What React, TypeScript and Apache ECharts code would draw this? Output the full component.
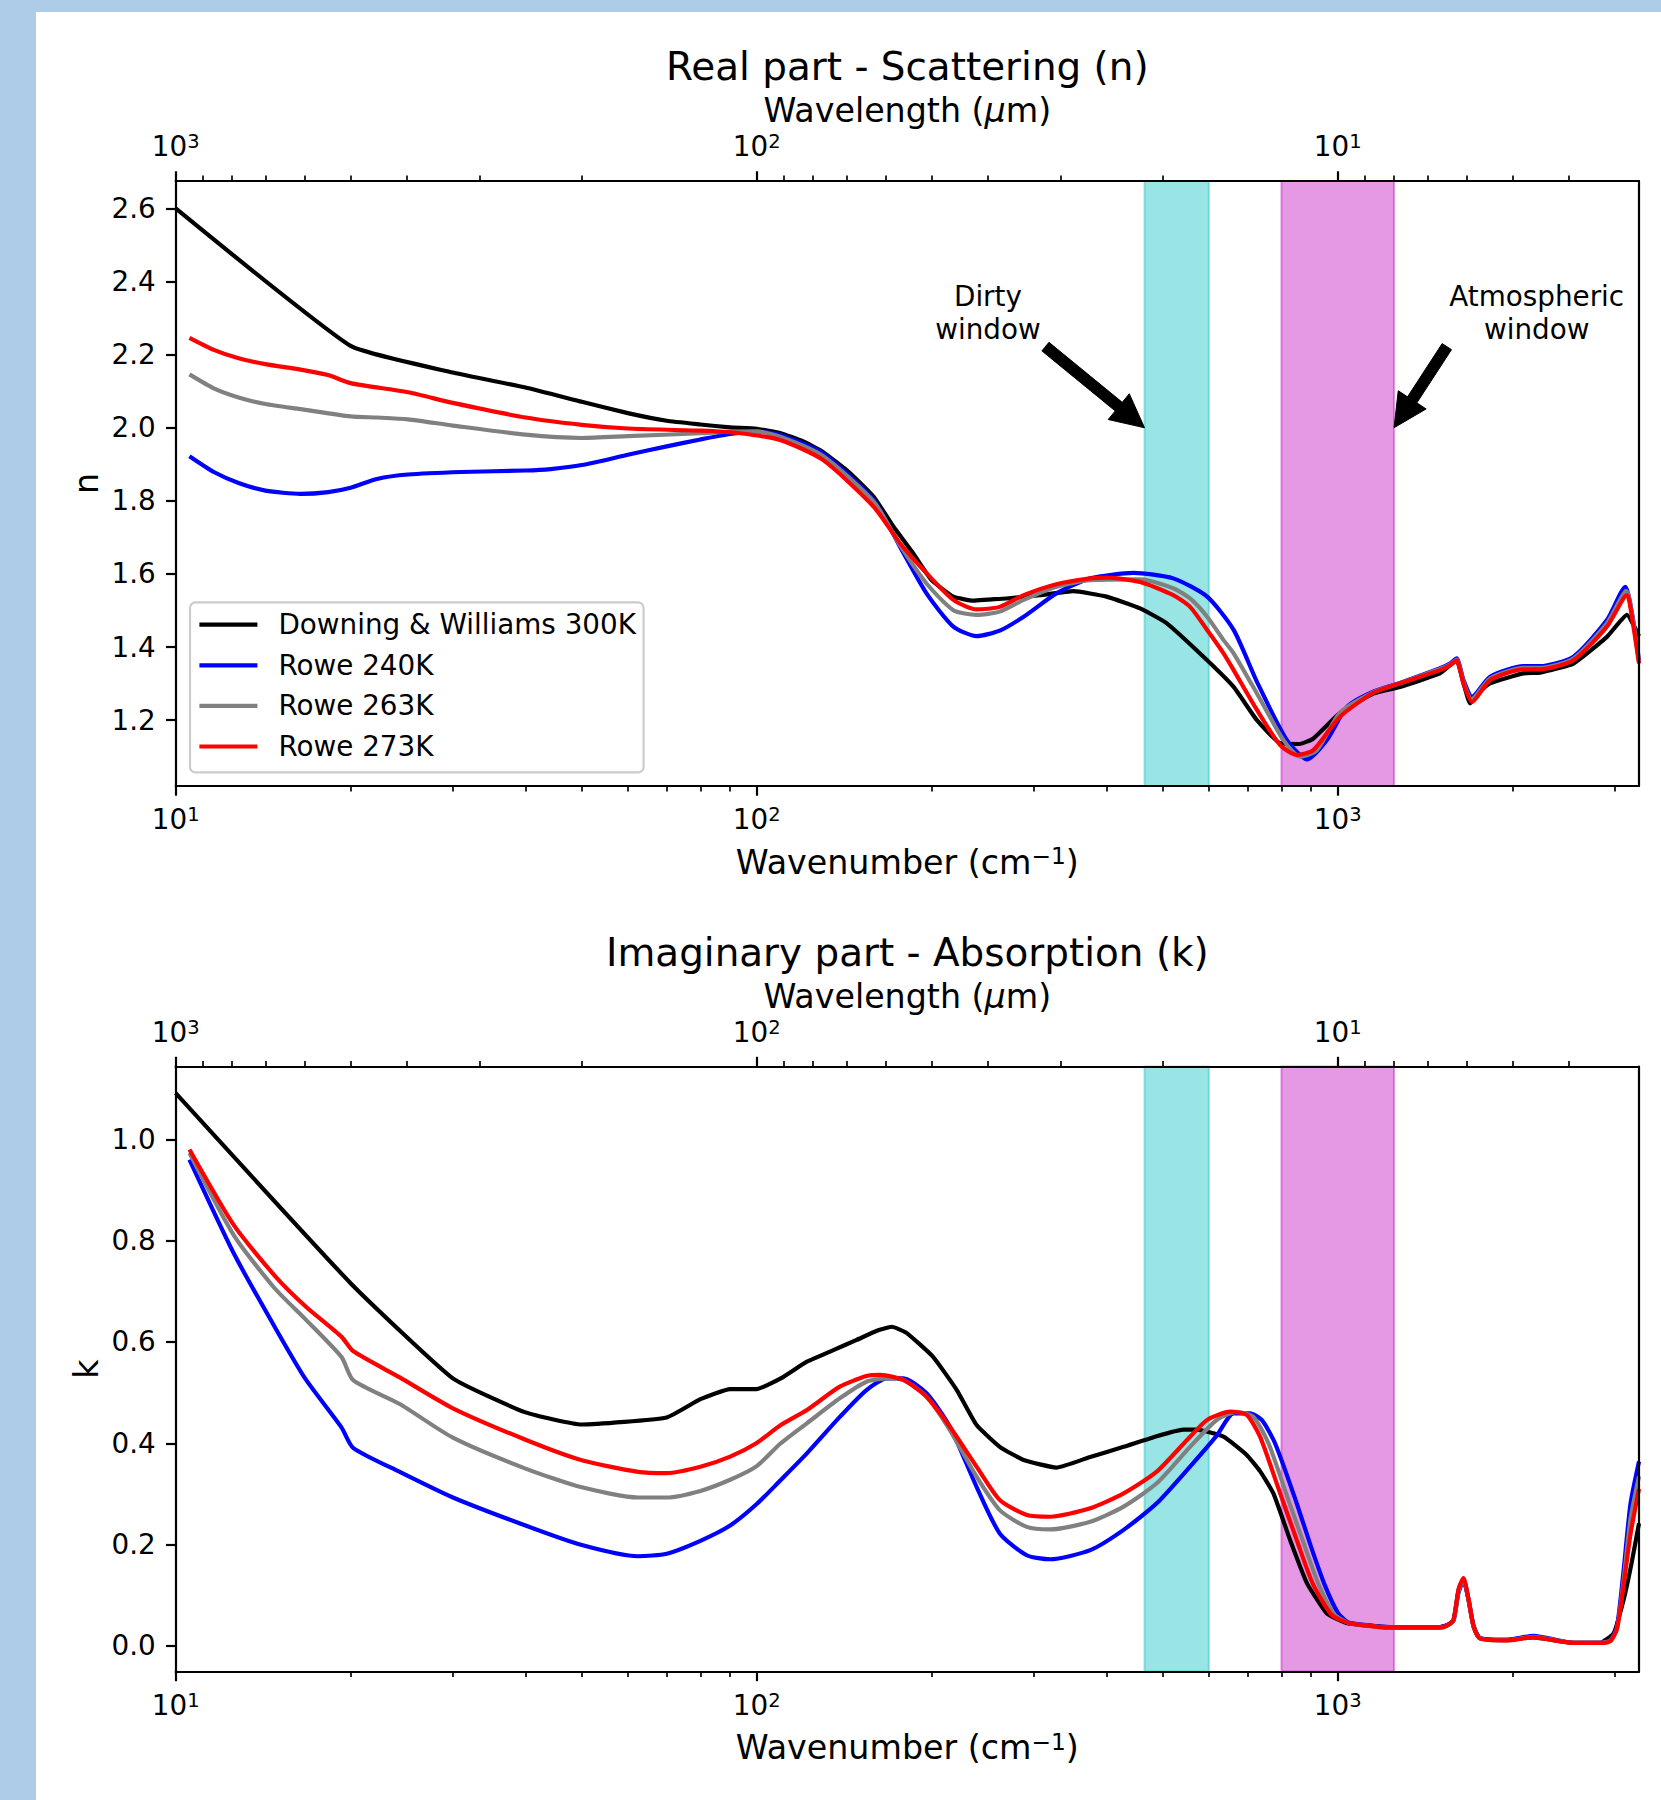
import React, { useEffect, useRef } from "react";
import * as echarts from "echarts";

const FONT = "DejaVu Sans";

// ---------- Real part n (wavenumber cm^-1, n) ----------
const nuN_DW = [10, 20, 30, 40, 50, 60, 70, 80, 90, 100, 110, 120, 130, 145, 159, 172, 186, 200, 218, 236, 250, 269, 307, 351, 400, 457, 508, 596, 662, 726, 796, 861, 908, 1008, 1151, 1280, 1500, 1560, 1602, 1646, 1690, 1750, 1829, 2087, 2230, 2545, 2906, 3146, 3300];
const n_DW = [2.600, 2.224, 2.151, 2.110, 2.071, 2.040, 2.019, 2.009, 2.001, 1.997, 1.985, 1.963, 1.934, 1.875, 1.811, 1.729, 1.656, 1.583, 1.538, 1.527, 1.530, 1.533, 1.542, 1.553, 1.538, 1.506, 1.465, 1.364, 1.291, 1.200, 1.137, 1.135, 1.150, 1.219, 1.273, 1.291, 1.328, 1.350, 1.364, 1.301, 1.246, 1.275, 1.301, 1.328, 1.330, 1.355, 1.428, 1.488, 1.430];

const nuN_240 = [10.56, 11.63, 12.83, 14.27, 16.4, 18.3, 20, 22.2, 25.1, 31, 40, 44.2, 50, 60, 70, 80, 90, 100, 110, 130, 159, 176.5, 196, 218, 239, 262, 288, 328, 375, 445, 521, 596, 662, 726, 817, 885, 958, 1038, 1151, 1280, 1500, 1560, 1602, 1646, 1703, 1829, 2087, 2230, 2545, 2906, 3126, 3203, 3300];
const n_240 = [1.922, 1.879, 1.849, 1.828, 1.819, 1.824, 1.836, 1.860, 1.872, 1.879, 1.883, 1.887, 1.898, 1.926, 1.949, 1.968, 1.983, 1.990, 1.980, 1.930, 1.802, 1.674, 1.547, 1.456, 1.430, 1.445, 1.483, 1.547, 1.588, 1.603, 1.588, 1.538, 1.447, 1.305, 1.146, 1.093, 1.146, 1.237, 1.278, 1.302, 1.342, 1.355, 1.369, 1.310, 1.264, 1.319, 1.348, 1.348, 1.374, 1.474, 1.565, 1.501, 1.364];

const nuN_263 = [10.56, 11.63, 12.83, 14.27, 16.4, 20, 22.2, 25.1, 30, 40, 50, 60, 80, 90, 100, 110, 130, 159, 176.5, 196, 218, 239, 262, 288, 328, 375, 457, 521, 557, 596, 636, 662, 726, 806, 861, 921, 1008, 1151, 1280, 1500, 1560, 1602, 1646, 1700, 1829, 2087, 2230, 2545, 2906, 3140, 3210, 3300];
const n_263 = [2.146, 2.108, 2.083, 2.065, 2.051, 2.031, 2.028, 2.023, 2.006, 1.981, 1.972, 1.977, 1.985, 1.989, 1.990, 1.975, 1.923, 1.798, 1.678, 1.574, 1.501, 1.488, 1.497, 1.529, 1.565, 1.583, 1.585, 1.561, 1.533, 1.483, 1.419, 1.383, 1.273, 1.146, 1.100, 1.118, 1.220, 1.276, 1.301, 1.340, 1.352, 1.366, 1.305, 1.257, 1.314, 1.343, 1.343, 1.369, 1.465, 1.553, 1.490, 1.360];

const nuN_273 = [10.56, 11.63, 12.83, 14.27, 16.4, 18.3, 20, 25.1, 30, 40, 50, 60, 80, 93.6, 110, 130, 159, 176.5, 196, 218, 239, 262, 288, 328, 375, 400, 457, 521, 557, 596, 636, 662, 726, 796, 850, 908, 1008, 1151, 1280, 1500, 1560, 1602, 1646, 1703, 1829, 2087, 2230, 2545, 2906, 3146, 3210, 3300];
const n_273 = [2.246, 2.213, 2.190, 2.174, 2.159, 2.144, 2.122, 2.097, 2.068, 2.028, 2.008, 1.998, 1.992, 1.985, 1.966, 1.912, 1.784, 1.684, 1.602, 1.529, 1.503, 1.510, 1.542, 1.572, 1.588, 1.590, 1.578, 1.542, 1.510, 1.447, 1.383, 1.337, 1.228, 1.132, 1.105, 1.118, 1.209, 1.275, 1.301, 1.337, 1.350, 1.364, 1.300, 1.250, 1.310, 1.339, 1.339, 1.364, 1.456, 1.542, 1.480, 1.355];

// ---------- Imaginary part k ----------
const nuK_DW = [10, 20, 30, 40, 50, 70, 80, 90, 100, 110, 122, 135.5, 148.6, 161, 170.8, 181, 201, 221, 239, 262, 288, 328, 375, 428, 488, 542, 572, 636, 697, 735, 775, 828, 885, 958, 1038, 1231, 1500, 1542, 1582, 1614, 1646, 1679, 1713, 1757, 1955, 2172, 2545, 2830, 2985, 3105, 3200, 3300];
const k_DW = [1.091, 0.716, 0.528, 0.461, 0.437, 0.451, 0.487, 0.507, 0.507, 0.528, 0.561, 0.584, 0.604, 0.622, 0.630, 0.618, 0.571, 0.505, 0.436, 0.393, 0.367, 0.352, 0.373, 0.393, 0.414, 0.427, 0.427, 0.413, 0.377, 0.345, 0.301, 0.209, 0.124, 0.064, 0.045, 0.037, 0.037, 0.041, 0.051, 0.110, 0.133, 0.091, 0.038, 0.015, 0.012, 0.017, 0.006, 0.006, 0.025, 0.091, 0.160, 0.242];

const nuK_240 = [10.56, 12.6, 14.8, 16.7, 19.3, 20.2, 24.3, 30, 40, 50, 62.5, 70, 80, 90, 100, 110, 122, 139, 154.5, 167.5, 178.8, 196, 215, 239, 262, 291.6, 320, 375, 428, 488, 557, 619, 662, 706, 740, 780, 845, 900, 950, 1000, 1040, 1100, 1231, 1500, 1542, 1582, 1614, 1646, 1679, 1713, 1757, 1955, 2172, 2545, 2830, 2950, 3026, 3105, 3190, 3300];
const k_240 = [0.960, 0.774, 0.630, 0.528, 0.431, 0.391, 0.3435, 0.293, 0.2376, 0.199, 0.177, 0.182, 0.2075, 0.2376, 0.280, 0.3275, 0.380, 0.452, 0.505, 0.528, 0.528, 0.4986, 0.4327, 0.314, 0.222, 0.179, 0.171, 0.189, 0.229, 0.2815, 0.354, 0.415, 0.459, 0.459, 0.446, 0.400, 0.290, 0.195, 0.120, 0.066, 0.047, 0.042, 0.037, 0.037, 0.041, 0.050, 0.105, 0.128, 0.092, 0.040, 0.016, 0.012, 0.020, 0.006, 0.006, 0.012, 0.040, 0.150, 0.280, 0.364];

const nuK_263 = [10.56, 12.6, 14.8, 16.7, 19.3, 20.2, 24.3, 30, 40, 50, 62.5, 70, 80, 90, 100, 110, 122, 139, 154.5, 167.5, 178.8, 196, 215, 239, 262, 291.6, 320, 375, 428, 488, 557, 619, 670, 716, 760, 815, 870, 925, 985, 1040, 1100, 1231, 1500, 1542, 1582, 1614, 1646, 1679, 1713, 1757, 1955, 2172, 2545, 2830, 2950, 3026, 3105, 3190, 3300];
const k_263 = [0.973, 0.810, 0.706, 0.6455, 0.570, 0.5247, 0.4775, 0.411, 0.350, 0.313, 0.293, 0.293, 0.306, 0.328, 0.355, 0.400, 0.4394, 0.4887, 0.5215, 0.528, 0.525, 0.492, 0.426, 0.334, 0.268, 0.235, 0.230, 0.245, 0.275, 0.321, 0.393, 0.446, 0.462, 0.452, 0.400, 0.301, 0.209, 0.124, 0.063, 0.046, 0.041, 0.036, 0.036, 0.040, 0.050, 0.108, 0.131, 0.092, 0.039, 0.015, 0.011, 0.018, 0.006, 0.006, 0.011, 0.035, 0.130, 0.250, 0.335];

const nuK_273 = [10.56, 12.6, 14.8, 16.7, 19.3, 20.2, 24.3, 30, 40, 50, 62.5, 70, 80, 90, 100, 110, 122, 139, 154.5, 163, 178.8, 196, 215, 239, 262, 291.6, 320, 375, 428, 488, 557, 596, 653, 697, 735, 796, 850, 905, 975, 1040, 1100, 1231, 1500, 1542, 1582, 1614, 1646, 1679, 1713, 1757, 1955, 2172, 2545, 2830, 2950, 3026, 3105, 3190, 3300];
const k_273 = [0.980, 0.830, 0.731, 0.671, 0.610, 0.582, 0.530, 0.469, 0.407, 0.3666, 0.3435, 0.341, 0.3536, 0.3737, 0.4007, 0.436, 0.4657, 0.5117, 0.5328, 0.535, 0.525, 0.492, 0.4327, 0.354, 0.288, 0.2584, 0.255, 0.2716, 0.301, 0.344, 0.413, 0.446, 0.4623, 0.456, 0.413, 0.301, 0.209, 0.124, 0.062, 0.046, 0.041, 0.036, 0.036, 0.040, 0.051, 0.112, 0.134, 0.093, 0.039, 0.015, 0.011, 0.017, 0.006, 0.006, 0.010, 0.035, 0.120, 0.220, 0.310];

// ---------- Series meta ----------
const seriesNames = ["Downing & Williams 300K", "Rowe 240K", "Rowe 263K", "Rowe 273K"];
const seriesColors = ["#000000", "#0000ff", "#808080", "#ff0000"];
const seriesSmooth = [0.14, 0.22, 0.22, 0.22];

// ---------- Axes ----------
const xMin = 10;
const xMax = 3300;
const nYMin = 1.02, nYMax = 2.675;
const kYMin = -0.0505, kYMax = 1.1437;
const nTicks = [1.2, 1.4, 1.6, 1.8, 2.0, 2.2, 2.4, 2.6];
const kTicks = [0.0, 0.2, 0.4, 0.6, 0.8, 1.0];
const majorWavenumbers = [10, 100, 1000];
const minorWavenumbers = [20, 30, 40, 50, 60, 70, 80, 90, 200, 300, 400, 500, 600, 700, 800, 900, 2000, 3000];
const minorWavelengths = [900, 800, 700, 600, 500, 400, 300, 200, 90, 80, 70, 60, 50, 40, 30, 20, 9, 8, 7, 6, 5, 4];

// ---------- Bands (cm^-1) ----------
const dirtyWindow = [465, 600];
const atmosWindow = [800, 1250];

// ---------- Annotations ----------
const annoText = ["Dirty\nwindow", "Atmospheric\nwindow"];
const annoTextX = [250, 2200];
const annoTextY = [2.315, 2.315];
const arrowTailX = [314, 1541];
const arrowTailY = [2.222, 2.222];
const arrowTipX = [465, 1250];
const arrowTipY = [2.0, 2.0];

// ---------- Layout ----------
const GRID_LEFT = 175.7;
const GRID_RIGHT = 1661 - 1639;
const GRID_H = 605;
const GRID_TOPS = [181, 1066.5];
const CX = (175.7 + 1639) / 2;

const TICK_FS = 27.8;
const LABEL_FS = 33.3;
const TITLE_FS = 38.9;
const LW = 4.17;

const zip = (xs: number[], ys: number[]) => {
  const n = Math.min(xs.length, ys.length);
  const out: number[][] = [];
  for (let i = 0; i < n; i++) out.push([xs[i], ys[i]]);
  return out;
};

const tickRich = {
  b: { fontFamily: FONT, fontSize: TICK_FS, lineHeight: 30, color: "#000" },
  s: { fontFamily: FONT, fontSize: 19.5, lineHeight: 15, verticalAlign: "top", color: "#000" },
};

const spine = { color: "#000", width: 2.2 };

function gridAxes(g: number, yName: string, yMin: number, yMax: number, yTicks: number[]) {
  const lmin = Math.log10(xMin);
  const lmax = Math.log10(xMax);
  const majorExp = majorWavenumbers.map((v) => Math.log10(v));
  const minorExp = minorWavenumbers.map((v) => Math.log10(v));
  const minorTopExp = minorWavelengths.map((l) => Math.log10(1e4 / l));
  const common = { gridIndex: g, z: 5, splitLine: { show: false }, minorTick: { show: false }, minorSplitLine: { show: false } };
  const xAxes: any[] = [
    {
      ...common,
      type: "log",
      logBase: 10,
      position: "bottom",
      min: xMin,
      max: xMax,
      axisLine: { show: true, onZero: false, lineStyle: spine },
      axisTick: { show: false },
      axisLabel: { show: false },
      name: "Wavenumber (cm{sup|\u22121})",
      nameLocation: "middle",
      nameGap: 58,
      nameMoveOverlap: false,
      nameTextStyle: {
        fontFamily: FONT, fontSize: LABEL_FS, lineHeight: 36, color: "#000",
        rich: { sup: { fontFamily: FONT, fontSize: 23.3, lineHeight: 16, verticalAlign: "top", color: "#000" } },
      },
    },
    {
      ...common,
      type: "value",
      position: "bottom",
      min: lmin,
      max: lmax,
      axisLine: { show: false, onZero: false },
      axisTick: { show: true, length: 9.7, lineStyle: spine, customValues: majorExp },
      axisLabel: {
        show: true, customValues: majorExp, margin: 18.5, fontFamily: FONT, fontSize: TICK_FS, lineHeight: 30, color: "#000",
        formatter: (v: number) => `{b|10}{s|${Math.round(v)}}`, rich: tickRich,
      },
    },
    {
      ...common,
      type: "value",
      position: "bottom",
      min: lmin,
      max: lmax,
      axisLine: { show: false, onZero: false },
      axisTick: { show: true, length: 5.6, lineStyle: { color: "#000", width: 1.67 }, customValues: minorExp },
      axisLabel: { show: false },
    },
    {
      ...common,
      type: "value",
      position: "top",
      min: lmin,
      max: lmax,
      axisLine: { show: true, onZero: false, lineStyle: spine },
      axisTick: { show: true, length: 9.7, lineStyle: spine, customValues: majorExp },
      axisLabel: {
        show: true, customValues: majorExp, margin: 19.5, fontFamily: FONT, fontSize: TICK_FS, lineHeight: 30, color: "#000",
        formatter: (v: number) => `{b|10}{s|${4 - Math.round(v)}}`, rich: tickRich,
      },
      name: "Wavelength ({it|\u03bc}m)",
      nameLocation: "middle",
      nameGap: 52.5,
      nameMoveOverlap: false,
      nameTextStyle: {
        fontFamily: FONT, fontSize: LABEL_FS, lineHeight: 36, color: "#000",
        rich: { it: { fontFamily: FONT, fontSize: LABEL_FS, lineHeight: 36, fontStyle: "italic", color: "#000" } },
      },
    },
    {
      ...common,
      type: "value",
      position: "top",
      min: lmin,
      max: lmax,
      axisLine: { show: false, onZero: false },
      axisTick: { show: true, length: 5.6, lineStyle: { color: "#000", width: 1.67 }, customValues: minorTopExp },
      axisLabel: { show: false },
    },
  ];
  const yAxes: any[] = [
    {
      ...common,
      type: "value",
      position: "left",
      min: yMin,
      max: yMax,
      axisLine: { show: true, onZero: false, lineStyle: spine },
      axisTick: { show: true, length: 9.7, lineStyle: spine, customValues: yTicks },
      axisLabel: {
        show: true, customValues: yTicks, margin: 20, fontFamily: FONT, fontSize: TICK_FS, color: "#000",
        formatter: (v: number) => v.toFixed(1),
      },
      name: yName,
      nameLocation: "middle",
      nameRotate: 90,
      nameGap: 72,
      nameMoveOverlap: false,
      nameTextStyle: { fontFamily: FONT, fontSize: LABEL_FS, lineHeight: 34, color: "#000" },
    },
    {
      ...common,
      type: "value",
      position: "right",
      min: yMin,
      max: yMax,
      axisLine: { show: true, onZero: false, lineStyle: spine },
      axisTick: { show: false },
      axisLabel: { show: false },
    },
  ];
  return { xAxes, yAxes };
}

function lineSeries(name: string, color: string, smooth: any, data: number[][], xi: number, yi: number) {
  return {
    name,
    type: "line",
    xAxisIndex: xi,
    yAxisIndex: yi,
    data,
    color,
    showSymbol: false,
    symbol: "none",
    smooth,
    z: 2,
    lineStyle: { color, width: LW, cap: "butt", join: "round" },
    itemStyle: { color },
    silent: true,
  };
}

function bandSeries(xi: number, yi: number) {
  return {
    name: "bands",
    type: "line",
    xAxisIndex: xi,
    yAxisIndex: yi,
    data: [],
    z: 1,
    silent: true,
    markArea: {
      silent: true,
      z: 1,
      data: [
        [
          { xAxis: dirtyWindow[0], itemStyle: { color: "rgba(0,191,191,0.4)", borderColor: "rgba(0,191,191,0.4)", borderWidth: 2 } },
          { xAxis: dirtyWindow[1] },
        ],
        [
          { xAxis: atmosWindow[0], itemStyle: { color: "rgba(191,0,191,0.4)", borderColor: "rgba(191,0,191,0.4)", borderWidth: 2 } },
          { xAxis: atmosWindow[1] },
        ],
      ],
    },
  };
}

const App: React.FC = () => {
  const ref = useRef<HTMLDivElement>(null);

  useEffect(() => {
    document.body.style.margin = "0";
    if (!ref.current) return;
    const chart = echarts.init(ref.current, undefined, { renderer: "svg" });

    const a1 = gridAxes(0, "n", nYMin, nYMax, nTicks);
    const a2 = gridAxes(1, "k", kYMin, kYMax, kTicks);
    const xAxis = [...a1.xAxes, ...a2.xAxes];
    const yAxis = [...a1.yAxes, ...a2.yAxes];

    const nData = [zip(nuN_DW, n_DW), zip(nuN_240, n_240), zip(nuN_263, n_263), zip(nuN_273, n_273)];
    const kData = [zip(nuK_DW, k_DW), zip(nuK_240, k_240), zip(nuK_263, k_263), zip(nuK_273, k_273)];

    const series: any[] = [bandSeries(0, 0), bandSeries(5, 2)];
    seriesNames.forEach((nm, i) => series.push(lineSeries(nm, seriesColors[i], seriesSmooth[i], nData[i], 0, 0)));
    seriesNames.forEach((nm, i) => series.push(lineSeries(nm, seriesColors[i], seriesSmooth[i], kData[i], 5, 2)));

    series.push({
      name: "annotations",
      type: "custom",
      xAxisIndex: 0,
      yAxisIndex: 0,
      z: 6,
      silent: true,
      data: annoText.map((_, i) => [arrowTailX[i], arrowTailY[i], arrowTipX[i], arrowTipY[i], annoTextX[i], annoTextY[i]]),
      renderItem: (params: any, api: any) => {
        const i = params.dataIndex;
        const tail = api.coord([api.value(0), api.value(1)]);
        const tip = api.coord([api.value(2), api.value(3)]);
        const tpos = api.coord([api.value(4), api.value(5)]);
        const dx = tip[0] - tail[0];
        const dy = tip[1] - tail[1];
        const L = Math.hypot(dx, dy);
        const ux = dx / L, uy = dy / L;
        const nx = -uy, ny = ux;
        const hl = 33.3, hw = 16.65, sw = 5.55;
        const bx = tip[0] - ux * hl, by = tip[1] - uy * hl;
        const pts = [
          [tail[0] + nx * sw, tail[1] + ny * sw],
          [bx + nx * sw, by + ny * sw],
          [bx + nx * hw, by + ny * hw],
          [tip[0], tip[1]],
          [bx - nx * hw, by - ny * hw],
          [bx - nx * sw, by - ny * sw],
          [tail[0] - nx * sw, tail[1] - ny * sw],
        ];
        return {
          type: "group",
          children: [
            { type: "polygon", shape: { points: pts }, style: { fill: "#000", stroke: "#000", lineWidth: 1 } },
            {
              type: "text",
              x: tpos[0],
              y: tpos[1],
              style: {
                text: annoText[i], fontFamily: FONT, fontSize: TICK_FS, lineHeight: 33, fill: "#000",
                align: "center", verticalAlign: "middle",
              },
            },
          ],
        };
      },
    });

    const titleStyle = { fontFamily: FONT, fontSize: TITLE_FS, lineHeight: 40, fontWeight: "normal", color: "#000" };

    chart.setOption({
      animation: false,
      backgroundColor: "transparent",
      title: [
        { text: "Real part - Scattering (n)", left: CX, top: GRID_TOPS[0] - 134.5, textAlign: "center", padding: 0, textStyle: titleStyle },
        { text: "Imaginary part - Absorption (k)", left: CX, top: GRID_TOPS[1] - 134.5, textAlign: "center", padding: 0, textStyle: titleStyle },
      ],
      legend: {
        data: seriesNames,
        orient: "vertical",
        left: 190,
        top: 602.3,
        icon: "rect",
        itemWidth: 58,
        itemHeight: 4.2,
        itemGap: 10.6,
        padding: [7.4, 7.6, 10.9, 9.4],
        backgroundColor: "rgba(255,255,255,0.8)",
        borderColor: "#cccccc",
        borderWidth: 2.2,
        borderRadius: 5.5,
        selectedMode: false,
        textStyle: { fontFamily: FONT, fontSize: TICK_FS, lineHeight: 30, color: "#000", padding: [0, 0, 0, 16] },
        z: 7,
      },
      grid: GRID_TOPS.map((t) => ({
        left: GRID_LEFT,
        right: GRID_RIGHT,
        top: t,
        height: GRID_H,
        containLabel: false,
        outerBoundsMode: "none",
        show: false,
      })),
      xAxis,
      yAxis,
      series,
    });

    return () => chart.dispose();
  }, []);

  return (
    <div style={{ position: "absolute", left: 0, top: 0, width: 1661, height: 1800, background: "#aecbe7", overflow: "hidden" }}>
      <div style={{ position: "absolute", left: 36, top: 12, right: 0, bottom: 0, background: "#ffffff" }} />
      <div ref={ref} style={{ position: "absolute", left: 0, top: 0, width: 1661, height: 1800 }} />
    </div>
  );
};

export default App;
